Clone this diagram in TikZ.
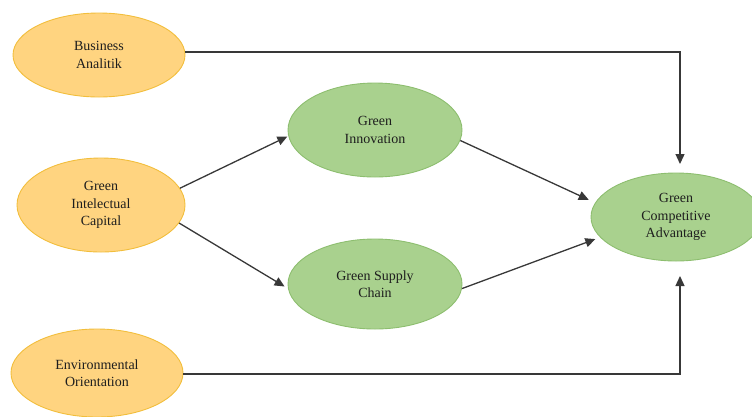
\documentclass[tikz,border=0pt]{standalone}
\usepackage{fontspec}
\setmainfont{Liberation Serif}
\usetikzlibrary{shapes.geometric,arrows.meta}
\definecolor{ofill}{HTML}{FFD480}
\definecolor{oline}{HTML}{F2BE3C}
\definecolor{gfill}{HTML}{A9D18E}
\definecolor{gline}{HTML}{8DBE6F}
\definecolor{lnc}{HTML}{383838}
\definecolor{txt}{HTML}{1E1E1E}
\tikzset{
  oval/.style={ellipse, inner sep=0pt, line width=0.9pt, align=center, text=txt,
    font=\fontsize{14}{17.5}\selectfont},
  orange/.style={oval, fill=ofill, draw=oline},
  green/.style={oval, fill=gfill, draw=gline},
  arr/.style={draw=lnc, line width=1.3pt, -{Triangle[length=10pt,width=9pt]}}
}
\begin{document}
\begin{tikzpicture}[x=1pt,y=-1pt]
\useasboundingbox (0,0) rectangle (752,416);
\node[orange, minimum width=172pt, minimum height=84pt] (ba) at (99,55) {Business\\Analitik};
\node[orange, minimum width=168pt, minimum height=94pt] (gic) at (101,205) {Green\\Intelectual\\Capital};
\node[orange, minimum width=172pt, minimum height=88pt] (eo) at (97,373) {Environmental\\Orientation};
\node[green, minimum width=174pt, minimum height=94pt] (gi) at (375,130) {Green\\Innovation};
\node[green, minimum width=174pt, minimum height=90pt] (gsc) at (375,284) {Green Supply\\Chain};
\node[green, minimum width=170pt, minimum height=88pt] (gca) at (676,217) {Green\\Competitive\\Advantage};
\coordinate (topin) at (680,164);
\coordinate (botin) at (680,276);
\draw[arr] (ba.east |- 0,52) -| (topin);
\draw[arr] (eo.east |- 0,374) -| (botin);
\draw[arr, shorten >=1pt] (gic.12) -- (gi.184);
\draw[arr, shorten >=4pt] (gic.-13) -- (gsc.183);
\draw[arr, shorten >=7pt] (gi.-7) -- (gca.170);
\draw[arr, shorten >=5pt] (gsc.-3) -- (gca.195);
\end{tikzpicture}
\end{document}
